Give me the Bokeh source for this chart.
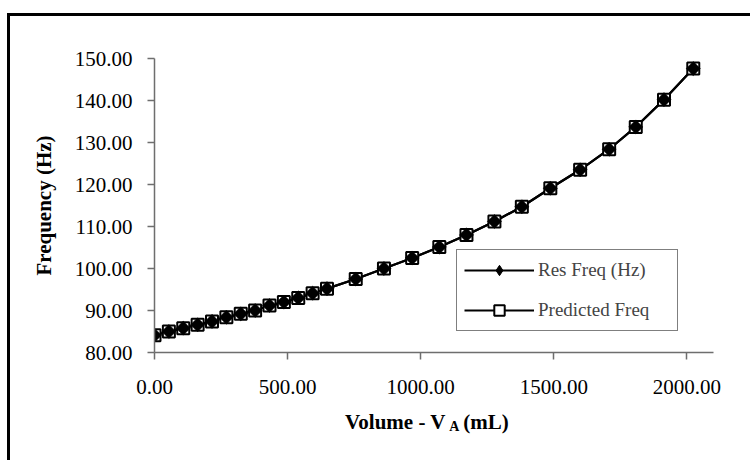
from bokeh.plotting import figure
from bokeh.layouts import column
from bokeh.models import Range1d, FixedTicker, NumeralTickFormatter, Legend, LegendItem, Label
from bokeh.embed import file_html
from bokeh.resources import INLINE
import math

volume = [0, 54, 108, 162, 216, 270, 324, 378, 432, 486, 540, 594, 648, 756, 862, 968,
          1070, 1172, 1277, 1380, 1487, 1599, 1708, 1808, 1914, 2024]
res_freq = [84.1, 85.0, 85.8, 86.6, 87.4, 88.4, 89.2, 90.0, 91.2, 92.0, 93.0, 94.1, 95.2,
            97.5, 100.0, 102.5, 105.1, 108.0, 111.2, 114.7, 119.1, 123.5, 128.4, 133.7, 140.2, 147.6]
pred_freq = [84.1, 85.0, 85.8, 86.6, 87.4, 88.4, 89.2, 90.0, 91.2, 92.0, 93.0, 94.1, 95.2,
             97.5, 100.0, 102.5, 105.1, 108.0, 111.2, 114.7, 119.1, 123.5, 128.4, 133.7, 140.2, 147.6]
x_ticks = [0, 500, 1000, 1500, 2000]
y_ticks = [80, 90, 100, 110, 120, 130, 140, 150]
series_names = ["Res Freq (Hz)", "Predicted Freq"]
x_title = ["Volume - V", "A", "(mL)"]

FONT = "Liberation Serif"
xr = Range1d(0, 2100)

p = figure(width=740, height=395, output_backend="svg", toolbar_location=None,
           x_range=xr, y_range=Range1d(80, 150),
           min_border_left=144, min_border_right=37, min_border_top=42, min_border_bottom=59)
p.outline_line_color = None
p.xgrid.visible = False
p.ygrid.visible = False
p.background_fill_color = "white"
p.border_fill_color = "white"

for ax in (p.xaxis[0], p.yaxis[0]):
    ax.axis_line_color = "#6e6e6e"
    ax.axis_line_width = 1.5
    ax.major_tick_line_color = "#6e6e6e"
    ax.major_tick_line_width = 1.5
    ax.major_tick_out = 7
    ax.major_tick_in = 0
    ax.minor_tick_out = 0
    ax.minor_tick_in = 0
    ax.major_label_text_font = FONT
    ax.major_label_text_font_size = "21px"
    ax.major_label_text_color = "black"
    ax.formatter = NumeralTickFormatter(format="0.00")

p.xaxis.ticker = FixedTicker(ticks=x_ticks)
p.yaxis.ticker = FixedTicker(ticks=y_ticks)
p.xaxis.major_label_standoff = 20
p.yaxis.major_label_standoff = 15

p.yaxis.axis_label = "Frequency (Hz)"
p.yaxis.axis_label_text_font = FONT
p.yaxis.axis_label_text_font_size = "21px"
p.yaxis.axis_label_text_font_style = "bold"
p.yaxis.axis_label_text_color = "black"
p.yaxis.axis_label_standoff = 16

l1 = p.line(volume, res_freq, line_color="black", line_width=2.2)
l2 = p.line(volume, pred_freq, line_color="black", line_width=2.2)
# diamond markers (also used for the legend swatch)
dmd = p.scatter(volume, res_freq, marker="diamond", size=12, fill_color="black",
                line_color="black", line_width=1)
sq = p.scatter(volume, pred_freq, marker="square", size=12, fill_color="white",
               line_color="black", line_width=2)
dm = p.scatter(volume, res_freq, marker="square", size=10, angle=math.pi / 4,
               fill_color="black", line_color="black", line_width=0.5)

legend = Legend(items=[LegendItem(label=series_names[0], renderers=[l1, dmd]),
                       LegendItem(label=series_names[1], renderers=[l2, sq])],
                location=(302, 21))
legend.margin = 0
legend.padding = 7
legend.spacing = 14
legend.border_line_color = "black"
legend.border_line_width = 1
legend.background_fill_color = "white"
legend.background_fill_alpha = 1
legend.label_text_font = FONT
legend.label_text_font_size = "19px"
legend.glyph_width = 70
legend.glyph_height = 26
legend.label_standoff = 4
legend.label_width = 132
legend.label_height = 26
p.add_layout(legend)

# strip below the chart holding the x-axis title (shares the x range)
t = figure(width=740, height=49, output_backend="svg", toolbar_location=None,
           x_range=xr, y_range=Range1d(0, 49), x_axis_type=None, y_axis_type=None,
           min_border_left=144, min_border_right=37, min_border_top=0, min_border_bottom=0)
t.outline_line_color = None
t.xgrid.visible = False
t.ygrid.visible = False
t.border_fill_color = "white"
lbl_kw = dict(text_font=FONT, text_font_style="bold", text_color="black",
              text_baseline="alphabetic", text_align="left")
t.add_layout(Label(x=716, y=38.5, text=x_title[0], text_font_size="21px", **lbl_kw))
t.add_layout(Label(x=1107, y=34, text=x_title[1], text_font_size="14px", **lbl_kw))
t.add_layout(Label(x=1160, y=38.5, text=x_title[2], text_font_size="21px", **lbl_kw))

layout = column(p, t, spacing=0)
layout.styles = {"border-left": "3px solid black", "border-top": "3px solid black",
                 "margin-top": "13px", "margin-left": "7px"}

open("out.html", "w").write(file_html(layout, INLINE))
